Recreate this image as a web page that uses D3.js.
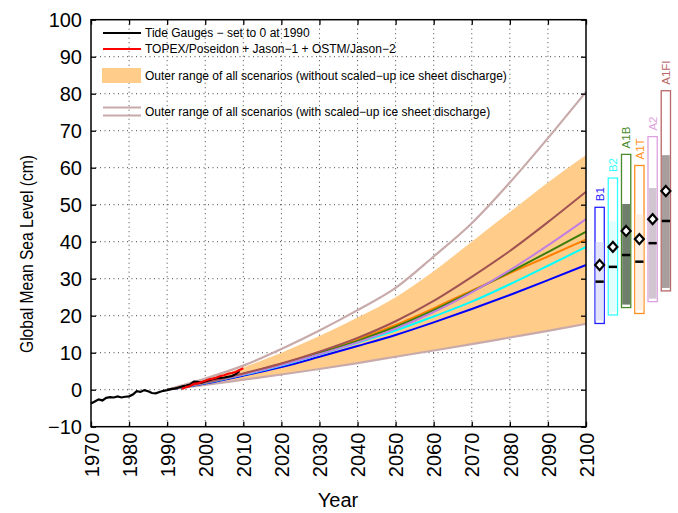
<!DOCTYPE html>
<html>
<head>
<meta charset="utf-8">
<script src="https://cdn.jsdelivr.net/npm/d3@7"></script>
<style>
	body { margin: 0; background: #fff; }
	text { font-family: "Liberation Sans", Arial, sans-serif; }
</style>
</head>
<body>
<div id="chart-area"></div>
<script>

// Observations
let tideYears = [1970, 1971, 1972, 1973, 1974, 1975, 1976, 1977, 1978, 1979, 1980, 1981, 1982, 1983, 1984,
	1985, 1986, 1987, 1988, 1989, 1990, 1991, 1992, 1993, 1994, 1995, 1996, 1997, 1998, 1999, 2000, 2001,
	2002, 2003, 2004, 2005, 2006, 2007, 2008, 2009];
let tideValues = [-3.7, -3.2, -2.6, -2.9, -2.2, -2.0, -2.1, -1.8, -2.1, -1.9, -1.8, -1.3, -0.4, -0.6, -0.1,
	-0.4, -0.9, -1.0, -0.6, -0.3, -0.1, 0.2, 0.3, 0.6, 0.9, 1.1, 1.4, 2.2, 2.1, 1.9, 2.3, 2.6,
	2.9, 3.1, 3.2, 3.3, 3.5, 3.7, 4.2, 5.0];
let satYears = [1993.9, 1995, 1996, 1997, 1998, 1999, 2000, 2001, 2002, 2003, 2004, 2005, 2006, 2007, 2008, 2009, 2010];
let satValues = [0.2, 0.7, 1.0, 1.6, 1.7, 2.1, 2.4, 2.8, 3.0, 3.3, 3.7, 3.9, 4.3, 4.5, 4.8, 5.3, 5.8];

// Projections
let projYears = [1990, 2000, 2010, 2020, 2030, 2040, 2050, 2060, 2070, 2080, 2090, 2100];
let bandUpper = [0, 2.8, 6.0, 10.0, 14.5, 19.5, 25.0, 32.0, 40.0, 48.0, 56.0, 63.4];
let bandLower = [0, 1.4, 2.8, 4.2, 5.7, 7.3, 9.0, 10.7, 12.4, 14.2, 16.0, 17.9];
let iceUpper = [0, 3.0, 6.5, 11.0, 16.0, 21.5, 27.5, 36.0, 45.0, 56.0, 68.0, 80.5];
let iceLower = [0, 1.3, 2.7, 4.1, 5.6, 7.2, 8.9, 10.6, 12.3, 14.1, 15.9, 17.8];
let projB1 = [0, 1.7, 3.8, 6.1, 8.9, 11.8, 14.8, 18.2, 21.8, 25.6, 29.6, 33.7];
let projB2 = [0, 1.8, 4.0, 6.5, 9.5, 12.7, 16.0, 19.8, 23.8, 28.5, 33.5, 38.6];
let projA1B = [0, 1.9, 4.2, 6.8, 9.9, 13.2, 17.0, 21.5, 26.5, 31.8, 37.2, 42.7];
let projA1T = [0, 2.0, 4.3, 7.0, 10.2, 13.6, 17.5, 22.0, 26.8, 31.5, 36.0, 40.6];
let projA2 = [0, 1.9, 4.1, 6.7, 9.6, 12.8, 16.5, 21.0, 26.3, 32.3, 39.0, 46.1];
let projA1FI = [0, 2.0, 4.4, 7.1, 10.3, 14.0, 18.5, 24.0, 30.5, 37.5, 45.3, 53.5];

// Scenario ranges at 2100 (side bars)
let scenarioNames = ["B1", "B2", "A1B", "A1T", "A2", "A1FI"];
let rangeLow = [17.9, 20.2, 22.2, 20.6, 23.8, 26.7];
let rangeShadeTop = [39.9, 45.5, 50.2, 47.4, 54.5, 63.4];
let rangeHigh = [49.3, 57.2, 63.6, 60.6, 68.4, 80.8];
let rangeMid = [29.2, 33.2, 36.4, 34.6, 39.6, 45.6];
let rangeEnd = [33.7, 38.6, 42.9, 40.7, 46.1, 53.7];

let lineColors = ["#0000ff", "#00ffff", "#3a7d0a", "#ff8000", "#c080e0", "#a05252"];
let boxColors = ["#2020ff", "#30ffff", "#4a8a2a", "#ff9020", "#dda0e0", "#b86666"];
let fillColors = ["#e2e2fa", "#e2ffff", "#6f7f6b", "#fff0e2", "#d0c5d0", "#a89e9e"];

let xTicks = [1970, 1980, 1990, 2000, 2010, 2020, 2030, 2040, 2050, 2060, 2070, 2080, 2090, 2100];
let yTicks = [-10, 0, 10, 20, 30, 40, 50, 60, 70, 80, 90, 100];

let bandColor = "#ffcc8a";
let iceColor = "#c8aaaa";

// SVG drawing area
let margin = {top: 19.7, right: 92, bottom: 86.3, left: 91};
let width = 678 - margin.left - margin.right,
	height = 513 - margin.top - margin.bottom;

let svgRoot = d3.select("#chart-area").append("svg")
	.attr("width", 678)
	.attr("height", 513);
let svg = svgRoot.append("g")
	.attr("transform", "translate(" + margin.left + "," + margin.top + ")");

let x = d3.scaleLinear().domain([1970, 2100]).range([0, width]);
let y = d3.scaleLinear().domain([-10, 100]).range([height, 0]);

// grid
let grid = svg.append("g").attr("class", "grid");
grid.selectAll(".vgrid").data(xTicks.slice(1, -1)).enter().append("line")
	.attr("x1", d => x(d)).attr("x2", d => x(d))
	.attr("y1", 0).attr("y2", height);
grid.selectAll(".hgrid").data(yTicks.slice(1, -1)).enter().append("line")
	.attr("x1", 0).attr("x2", width)
	.attr("y1", d => y(d)).attr("y2", d => y(d));
grid.selectAll("line")
	.attr("stroke", "#444")
	.attr("stroke-width", 1)
	.attr("stroke-dasharray", "1,3.5");

// projection band
let proj = projYears.map((yr, i) => ({year: yr, lo: bandLower[i], hi: bandUpper[i]}));
let area = d3.area()
	.x(d => x(d.year))
	.y0(d => y(d.lo))
	.y1(d => y(d.hi))
	.curve(d3.curveMonotoneX);
svg.append("path")
	.attr("d", area(proj))
	.attr("fill", bandColor);

let line = d3.line()
	.x(d => x(d[0]))
	.y(d => y(d[1]))
	.curve(d3.curveMonotoneX);

function series(years, values) {
	return years.map((yr, i) => [yr, values[i]]);
}

// outer range with scaled-up ice discharge
[iceUpper, iceLower].forEach(vals => {
	svg.append("path")
		.attr("d", line(series(projYears, vals)))
		.attr("fill", "none")
		.attr("stroke", iceColor)
		.attr("stroke-width", 2.2);
});

// scenario lines
let scenarioSeries = [projB1, projB2, projA1T, projA1B, projA2, projA1FI];
let scenarioOrder = [0, 1, 3, 2, 4, 5];
scenarioSeries.forEach((vals, i) => {
	svg.append("path")
		.attr("d", line(series(projYears, vals)))
		.attr("fill", "none")
		.attr("stroke", lineColors[scenarioOrder[i]])
		.attr("stroke-width", 2);
});

// observations
svg.append("path")
	.attr("d", d3.line().x(d => x(d[0])).y(d => y(d[1]))(series(tideYears, tideValues)))
	.attr("fill", "none")
	.attr("stroke", "#000")
	.attr("stroke-width", 2.2);
svg.append("path")
	.attr("d", d3.line().x(d => x(d[0])).y(d => y(d[1]))(series(satYears, satValues)))
	.attr("fill", "none")
	.attr("stroke", "#ff0000")
	.attr("stroke-width", 2.2);

// axes
let xAxis = d3.axisBottom(x).tickValues(xTicks).tickFormat(d3.format("d")).tickSize(-5).tickSizeOuter(0);
let yAxis = d3.axisLeft(y).tickValues(yTicks).tickSize(-5).tickSizeOuter(0).tickPadding(9);

svg.append("g")
	.attr("class", "axis x-axis")
	.attr("transform", "translate(0," + height + ")")
	.call(xAxis)
	.selectAll("text")
		.attr("y", 0)
		.attr("x", -6)
		.attr("dy", "0.36em")
		.attr("transform", "rotate(-90)")
		.style("text-anchor", "end");
svg.append("g")
	.attr("class", "axis y-axis")
	.call(yAxis);
svg.append("g")
	.attr("class", "axis")
	.attr("transform", "translate(" + width + ",0)")
	.call(d3.axisRight(y).tickValues(yTicks).tickSize(-5).tickSizeOuter(0).tickFormat(""));
svg.append("g")
	.attr("class", "axis")
	.call(d3.axisTop(x).tickValues(xTicks).tickSize(-5).tickSizeOuter(0).tickFormat(""));

svg.selectAll(".axis .domain").remove();
svg.selectAll(".axis text")
	.attr("font-size", 20)
	.attr("font-family", "'Liberation Sans', Arial, sans-serif")
	.attr("fill", "#000");
svg.selectAll(".axis line").attr("stroke", "#000").attr("stroke-width", 1.3);

svg.append("rect")
	.attr("width", width)
	.attr("height", height)
	.attr("fill", "none")
	.attr("stroke", "#000")
	.attr("stroke-width", 1.5);

// axis titles
svgRoot.append("text")
	.attr("transform", "translate(33,254) rotate(-90)")
	.attr("text-anchor", "middle")
	.attr("font-size", 19)
	.attr("textLength", 198)
	.attr("lengthAdjust", "spacingAndGlyphs")
	.text("Global Mean Sea Level (cm)");
svgRoot.append("text")
	.attr("x", 338)
	.attr("y", 507)
	.attr("text-anchor", "middle")
	.attr("font-size", 20)
	.text("Year");

// legend
let legend = svgRoot.append("g").attr("class", "legend");
let legendRows = [
	{type: "line", color: "#000", yPos: 33, label: "Tide Gauges \u2212 set to 0 at 1990"},
	{type: "line", color: "#ff0000", yPos: 49, label: "TOPEX/Poseidon + Jason\u22121 + OSTM/Jason\u22122"},
	{type: "patch", color: bandColor, yPos: 75.5, label: "Outer range of all scenarios (without scaled\u2212up ice sheet discharge)"},
	{type: "double", color: iceColor, yPos: 111.5, label: "Outer range of all scenarios (with scaled\u2212up ice sheet discharge)"}
];
legendRows.forEach(r => {
	if (r.type === "line") {
		legend.append("line").attr("x1", 103).attr("x2", 141).attr("y1", r.yPos).attr("y2", r.yPos)
			.attr("stroke", r.color).attr("stroke-width", 2.2);
	} else if (r.type === "patch") {
		legend.append("rect").attr("x", 102).attr("y", r.yPos - 7.5).attr("width", 39).attr("height", 15)
			.attr("fill", r.color);
	} else {
		[-4, 4].forEach(off => {
			legend.append("line").attr("x1", 103).attr("x2", 141).attr("y1", r.yPos + off).attr("y2", r.yPos + off)
				.attr("stroke", r.color).attr("stroke-width", 2.2);
		});
	}
	legend.append("text")
		.attr("x", 145)
		.attr("y", r.yPos)
		.attr("dy", "0.36em")
		.attr("font-size", 12)
		.text(r.label);
});

// side range bars at 2100
let bx = d3.scaleBand()
	.domain(scenarioNames)
	.range([504, 579.5])
	.paddingInner(0.3)
	.paddingOuter(0);

let bars = svg.append("g").attr("class", "ranges")
	.selectAll("g")
	.data(scenarioNames)
	.enter()
	.append("g")
	.attr("transform", d => "translate(" + bx(d) + ",0)");

bars.append("rect")
	.attr("width", bx.bandwidth())
	.attr("y", (d, i) => y(rangeHigh[i]))
	.attr("height", (d, i) => y(rangeLow[i]) - y(rangeHigh[i]))
	.attr("fill", "#fff")
	.attr("stroke", (d, i) => boxColors[i])
	.attr("stroke-width", 1.3);
bars.append("rect")
	.attr("x", 0.7)
	.attr("width", bx.bandwidth() - 1.4)
	.attr("y", (d, i) => y(rangeShadeTop[i]))
	.attr("height", (d, i) => y(rangeLow[i] + 0.8) - y(rangeShadeTop[i]))
	.attr("fill", (d, i) => fillColors[i]);
bars.append("line")
	.attr("x1", 0.5)
	.attr("x2", bx.bandwidth() - 0.5)
	.attr("y1", (d, i) => y(rangeMid[i]))
	.attr("y2", (d, i) => y(rangeMid[i]))
	.attr("stroke", "#000")
	.attr("stroke-width", 2.5);
bars.append("path")
	.attr("d", d3.symbol(d3.symbolDiamond2, 64))
	.attr("transform", (d, i) => "translate(" + bx.bandwidth() / 2 + "," + y(rangeEnd[i]) + ") scale(0.9,1)")
	.attr("fill", "#fff")
	.attr("stroke", "#000")
	.attr("stroke-width", 2.3);
bars.append("text")
	.attr("transform", (d, i) => "translate(" + (bx.bandwidth() / 2) + "," + (y(rangeHigh[i]) - 6) + ") rotate(-90)")
	.attr("dy", "0.36em")
	.attr("font-size", 11.5)
	.attr("fill", (d, i) => boxColors[i])
	.text(d => d);

</script>
</body>
</html>
